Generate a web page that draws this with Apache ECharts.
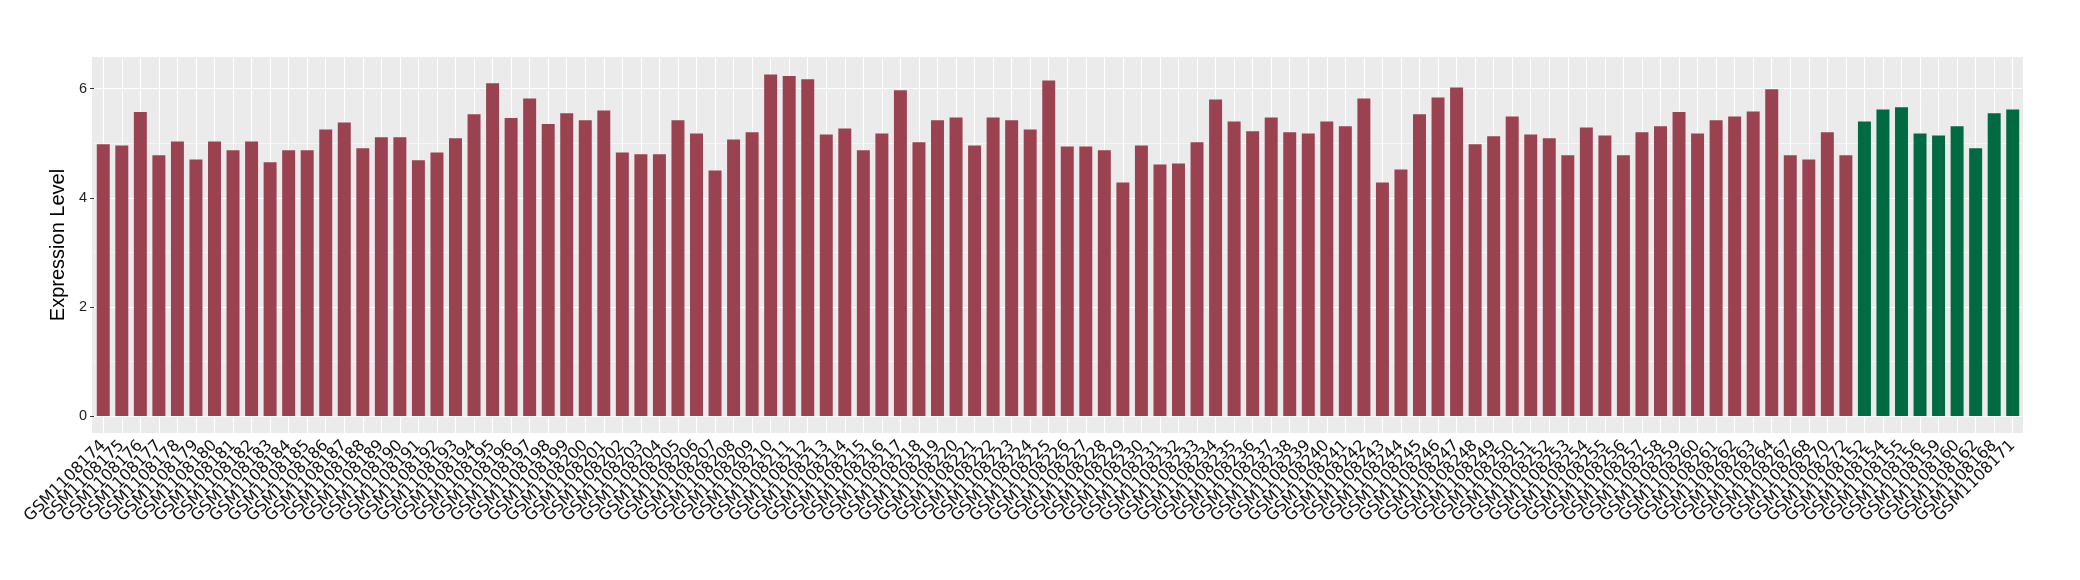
<!DOCTYPE html>
<html><head><meta charset="utf-8">
<script src="https://cdn.jsdelivr.net/npm/echarts@6/dist/echarts.min.js"></script>
<style>html,body{margin:0;padding:0;background:#fff}#c{width:2080px;height:580px}</style>
</head><body><div id="c"></div>
<script>
// Group A samples (maroon)
const groupASamples = [
 "GSM1108174","GSM1108175","GSM1108176","GSM1108177","GSM1108178","GSM1108179","GSM1108180","GSM1108181","GSM1108182","GSM1108183",
 "GSM1108184","GSM1108185","GSM1108186","GSM1108187","GSM1108188","GSM1108189","GSM1108190","GSM1108191","GSM1108192","GSM1108193",
 "GSM1108194","GSM1108195","GSM1108196","GSM1108197","GSM1108198","GSM1108199","GSM1108200","GSM1108201","GSM1108202","GSM1108203",
 "GSM1108204","GSM1108205","GSM1108206","GSM1108207","GSM1108208","GSM1108209","GSM1108210","GSM1108211","GSM1108212","GSM1108213",
 "GSM1108214","GSM1108215","GSM1108216","GSM1108217","GSM1108218","GSM1108219","GSM1108220","GSM1108221","GSM1108222","GSM1108223",
 "GSM1108224","GSM1108225","GSM1108226","GSM1108227","GSM1108228","GSM1108229","GSM1108230","GSM1108231","GSM1108232","GSM1108233",
 "GSM1108234","GSM1108235","GSM1108236","GSM1108237","GSM1108238","GSM1108239","GSM1108240","GSM1108241","GSM1108242","GSM1108243",
 "GSM1108244","GSM1108245","GSM1108246","GSM1108247","GSM1108248","GSM1108249","GSM1108250","GSM1108251","GSM1108252","GSM1108253",
 "GSM1108254","GSM1108255","GSM1108256","GSM1108257","GSM1108258","GSM1108259","GSM1108260","GSM1108261","GSM1108262","GSM1108263",
 "GSM1108264","GSM1108267","GSM1108268","GSM1108270","GSM1108272"
];
const groupAValues = [
 4.98,4.96,5.57,4.78,5.03,4.70,5.03,4.87,5.03,4.65,4.87,4.87,5.25,5.38,4.91,5.11,5.11,4.69,
 4.83,5.09,5.53,6.10,5.46,5.82,5.35,5.55,5.42,5.60,4.83,4.80,4.80,5.42,5.18,4.50,5.07,
 5.20,6.26,6.23,6.17,5.16,5.27,4.87,5.18,5.97,5.02,5.42,5.47,4.96,5.47,5.42,5.25,6.15,4.94,
 4.94,4.87,4.28,4.96,4.61,4.63,5.02,5.80,5.40,5.22,5.47,5.20,5.18,5.40,5.31,5.82,4.28,4.52,
 5.53,5.84,6.02,4.98,5.13,5.49,5.16,5.09,4.78,5.29,5.14,4.78,5.20,5.31,5.57,5.18,5.42,
 5.49,5.58,5.99,4.78,4.70,5.20,4.78
];
// Group B samples (green)
const groupBSamples = ["GSM1108152","GSM1108154","GSM1108155","GSM1108156","GSM1108159","GSM1108160","GSM1108162","GSM1108168","GSM1108171"];
const groupBValues = [5.40,5.62,5.66,5.18,5.14,5.31,4.91,5.55,5.62];

const yTickValues = [0,2,4,6];
const yMinorValues = [1,3,5];

const COLOR_A = '#9B4251';
const COLOR_B = '#006A43';
const FONT = '"Liberation Sans", Arial, sans-serif';
const LABEL_FONT = '"DejaVu Sans", sans-serif';

const categories = groupASamples.concat(groupBSamples);
const barData = groupAValues.map(v => ({value: v, itemStyle: {color: COLOR_A}}))
  .concat(groupBValues.map(v => ({value: v, itemStyle: {color: COLOR_B}})));

const gridLines = []
  .concat(yTickValues.map(v => ({yAxis: v, lineStyle: {width: 1.1}})))
  .concat(yMinorValues.map(v => ({yAxis: v, lineStyle: {width: 0.55}})))
  .concat(categories.map(c => ({xAxis: c, lineStyle: {width: 1.1}})));

const chart = echarts.init(document.getElementById('c'), null, {renderer: 'canvas'});
chart.setOption({
  animation: false,
  backgroundColor: '#ffffff',
  graphic: {elements: [{type: 'rect', z: -100, silent: true,
    shape: {x: 92, y: 57, width: 1931, height: 376}, style: {fill: '#EBEBEB'}}]},
  grid: {left: 94, right: 58, top: 57, bottom: 147, containLabel: false},
  xAxis: {
    type: 'category', data: categories,
    axisLine: {show: false},
    axisTick: {show: true, alignWithLabel: true, length: 4, lineStyle: {color: '#333', width: 1}},
    axisLabel: {interval: 0, rotate: 45, fontFamily: LABEL_FONT, fontSize: 16, color: '#111', margin: 10},
    splitLine: {show: false}
  },
  yAxis: {
    type: 'value', min: -0.31, max: 6.58,
    name: 'Expression Level', nameLocation: 'middle', nameGap: 21,
    nameTextStyle: {fontFamily: FONT, fontSize: 20, color: '#000'},
    axisLine: {show: false},
    axisTick: {show: true, customValues: yTickValues, length: 4, lineStyle: {color: '#333', width: 1}},
    axisLabel: {customValues: yTickValues, fontFamily: FONT, fontSize: 14.5, color: '#222', margin: 7},
    splitLine: {show: false}
  },
  series: [
    {type: 'line', data: [], z: 1, silent: true,
     markLine: {z: 1, silent: true, symbol: ['none','none'], label: {show: false}, animation: false,
       emphasis: {disabled: true},
       lineStyle: {color: '#ffffff', type: 'solid'}, data: gridLines}},
    {type: 'bar', data: barData, barWidth: '70%', z: 2, silent: true}
  ]
});
</script></body></html>
